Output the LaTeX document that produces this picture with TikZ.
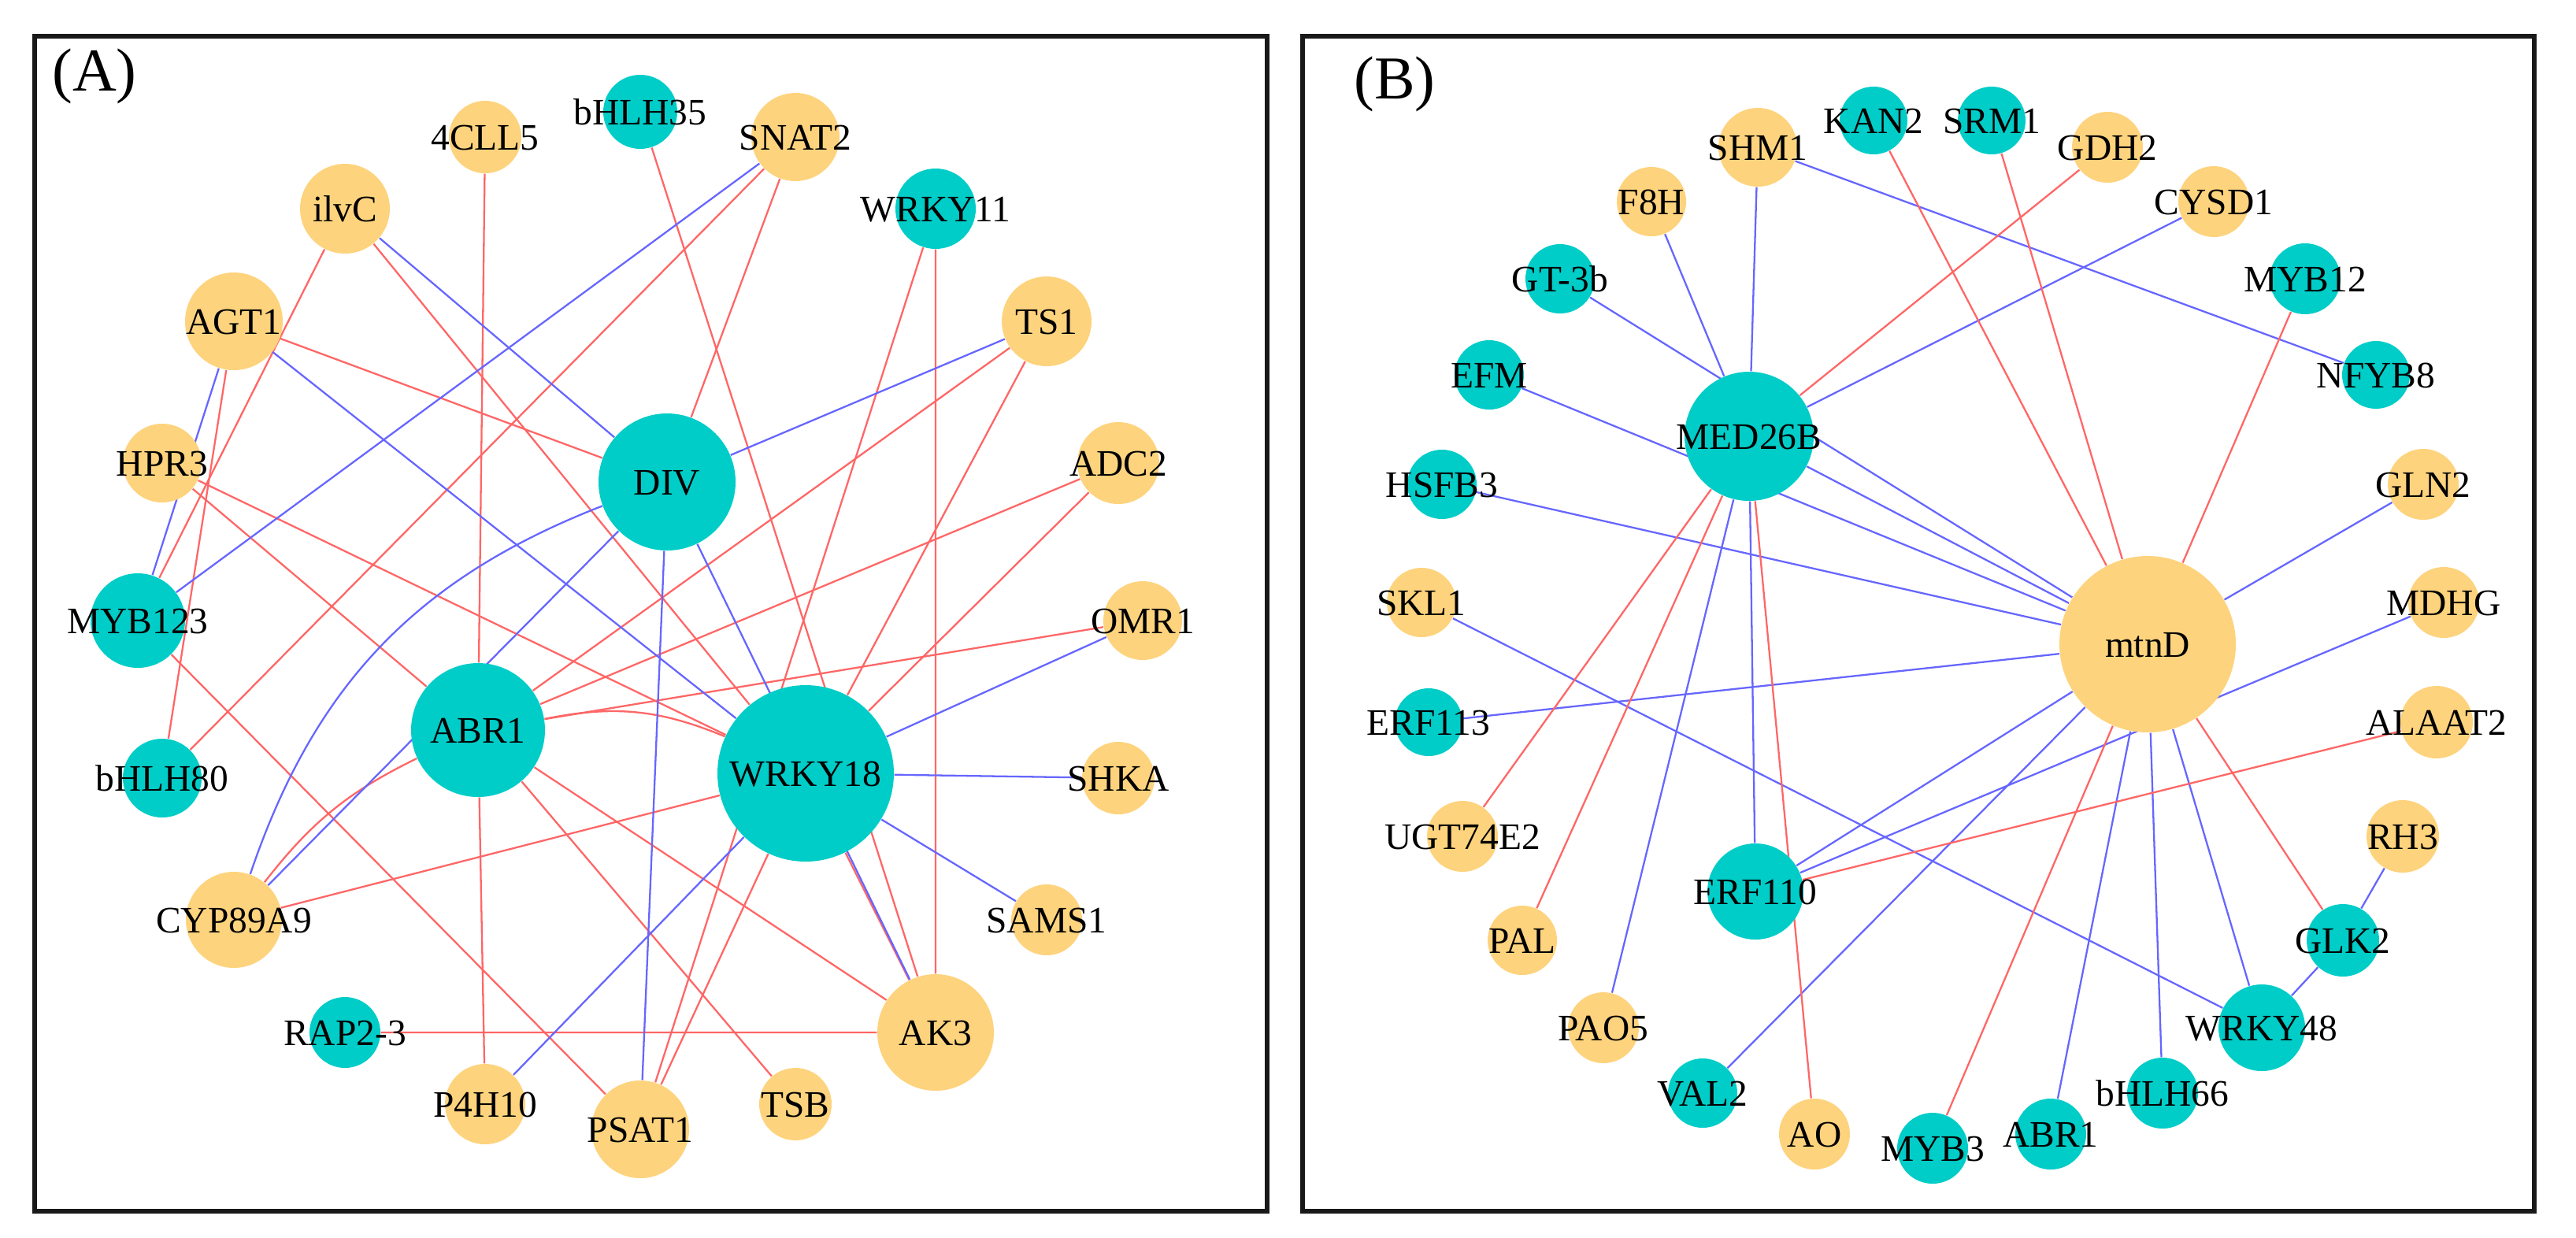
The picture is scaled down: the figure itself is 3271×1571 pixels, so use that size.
\documentclass[tikz,border=0pt]{standalone}
\usepackage{fontspec}
\setmainfont{Liberation Serif}
\usetikzlibrary{backgrounds}
\definecolor{tfcol}{RGB}{0,205,200}
\definecolor{enzcol}{RGB}{254,211,125}
\definecolor{poscol}{RGB}{255,102,102}
\definecolor{negcol}{RGB}{102,102,255}
\newcommand{\gname}[1]{\makebox[0pt]{\raisebox{-0.34em}[0pt][0pt]{#1}}}
\tikzset{
  tf/.style={circle, fill=tfcol, inner sep=0pt, font=\fontsize{13.5}{16}\selectfont},
  enz/.style={circle, fill=enzcol, inner sep=0pt, font=\fontsize{13.5}{16}\selectfont},
  poscor/.style={draw=poscol, line width=0.65pt},
  negcor/.style={draw=negcol, line width=0.65pt},
  panel/.style={draw=black!90, line width=1.6pt},
  paneltag/.style={font=\fontsize{22}{26}\selectfont},
}
\begin{document}
\begin{tikzpicture}[x=0.1mm, y=-0.1mm]
  \useasboundingbox (0,0) rectangle (3271,1571);
  \draw[panel] (44,46) rectangle (1609,1538);
  \draw[panel] (1654,46) rectangle (3218,1538);
  \node[paneltag] (taga) at (120,97) {(A)};
  \node[paneltag] (tagb) at (1771,107) {(B)};

  % network A
  \node[tf, minimum size=9.4mm] (bhlh35) at (813,142) {\gname{bHLH35}};
  \node[enz, minimum size=11.2mm] (snat2) at (1010,174) {\gname{SNAT2}};
  \node[tf, minimum size=10.2mm] (wrky11) at (1188,265) {\gname{WRKY11}};
  \node[enz, minimum size=11.4mm] (ts1) at (1329,408) {\gname{TS1}};
  \node[enz, minimum size=10.4mm] (adc2) at (1420,588) {\gname{ADC2}};
  \node[enz, minimum size=10mm] (omr1) at (1451,788) {\gname{OMR1}};
  \node[enz, minimum size=9.2mm] (shka) at (1420,988) {\gname{SHKA}};
  \node[enz, minimum size=9mm] (sams1) at (1329,1168) {\gname{SAMS1}};
  \node[enz, minimum size=14.8mm] (ak3) at (1188,1311) {\gname{AK3}};
  \node[enz, minimum size=9.2mm] (tsb) at (1010,1402) {\gname{TSB}};
  \node[enz, minimum size=12.4mm] (psat1) at (813,1434) {\gname{PSAT1}};
  \node[enz, minimum size=10.2mm] (p4h10) at (616,1402) {\gname{P4H10}};
  \node[tf, minimum size=9mm] (rap23) at (438,1311) {\gname{RAP2-3}};
  \node[enz, minimum size=12.2mm] (cyp89a9) at (297,1168) {\gname{CYP89A9}};
  \node[tf, minimum size=10mm] (bhlh80) at (206,988) {\gname{bHLH80}};
  \node[tf, minimum size=12mm] (myb123) at (175,788) {\gname{MYB123}};
  \node[enz, minimum size=10mm] (hpr3) at (206,588) {\gname{HPR3}};
  \node[enz, minimum size=12.4mm] (agt1) at (297,408) {\gname{AGT1}};
  \node[enz, minimum size=11.4mm] (ilvc) at (438,265) {\gname{ilvC}};
  \node[enz, minimum size=9.2mm] (cll5) at (616,174) {\gname{4CLL5}};
  \node[tf, minimum size=17.4mm] (div) at (847,612) {\gname{DIV}};
  \node[tf, minimum size=17mm] (abr1) at (607,927) {\gname{ABR1}};
  \node[tf, minimum size=22.4mm] (wrky18) at (1023,982) {\gname{WRKY18}};

  % network B
  \node[tf, minimum size=8.6mm] (kan2) at (2379,153) {\gname{KAN2}};
  \node[tf, minimum size=8.6mm] (srm1) at (2529,153) {\gname{SRM1}};
  \node[enz, minimum size=9mm] (gdh2) at (2676,187) {\gname{GDH2}};
  \node[enz, minimum size=9mm] (cysd1) at (2811,256) {\gname{CYSD1}};
  \node[tf, minimum size=9mm] (myb12) at (2927,354) {\gname{MYB12}};
  \node[tf, minimum size=8.6mm] (nfyb8) at (3017,476) {\gname{NFYB8}};
  \node[enz, minimum size=9mm] (gln2) at (3077,615) {\gname{GLN2}};
  \node[enz, minimum size=9mm] (mdhg) at (3103,765) {\gname{MDHG}};
  \node[enz, minimum size=9.2mm] (alaat2) at (3094,917) {\gname{ALAAT2}};
  \node[enz, minimum size=9.2mm] (rh3) at (3051,1062) {\gname{RH3}};
  \node[tf, minimum size=9.2mm] (glk2) at (2975,1194) {\gname{GLK2}};
  \node[tf, minimum size=11mm] (wrky48) at (2872,1305) {\gname{WRKY48}};
  \node[tf, minimum size=9mm] (bhlh66) at (2746,1388) {\gname{bHLH66}};
  \node[tf, minimum size=9mm] (abr1b) at (2604,1440) {\gname{ABR1}};
  \node[tf, minimum size=9mm] (myb3) at (2454,1458) {\gname{MYB3}};
  \node[enz, minimum size=9mm] (ao) at (2304,1440) {\gname{AO}};
  \node[tf, minimum size=8.8mm] (val2) at (2162,1388) {\gname{VAL2}};
  \node[enz, minimum size=9mm] (pao5) at (2036,1305) {\gname{PAO5}};
  \node[enz, minimum size=8.8mm] (pal) at (1933,1194) {\gname{PAL}};
  \node[enz, minimum size=9mm] (ugt74e2) at (1857,1062) {\gname{UGT74E2}};
  \node[tf, minimum size=8.6mm] (erf113) at (1814,917) {\gname{ERF113}};
  \node[enz, minimum size=8.8mm] (skl1) at (1805,765) {\gname{SKL1}};
  \node[tf, minimum size=8.8mm] (hsfb3) at (1831,615) {\gname{HSFB3}};
  \node[tf, minimum size=8.8mm] (efm) at (1891,476) {\gname{EFM}};
  \node[tf, minimum size=8.8mm] (gt3b) at (1981,354) {\gname{GT-3b}};
  \node[enz, minimum size=8.8mm] (f8h) at (2097,256) {\gname{F8H}};
  \node[enz, minimum size=10mm] (shm1) at (2232,187) {\gname{SHM1}};
  \node[tf, minimum size=16.4mm] (med26b) at (2221,554) {\gname{MED26B}};
  \node[enz, minimum size=22.4mm] (mtnd) at (2727,818) {\gname{mtnD}};
  \node[tf, minimum size=12.2mm] (erf110) at (2229,1132) {\gname{ERF110}};

  \begin{scope}[on background layer]
    \draw[poscor] (cll5) -- (abr1) -- (p4h10);
    \draw[poscor] (bhlh35) -- (ak3);
    \draw[poscor] (bhlh80) -- (snat2) -- (div);
    \draw[poscor] (psat1) -- (wrky11) -- (ak3);
    \draw[poscor] (abr1) -- (ts1) -- (wrky18);
    \draw[poscor] (abr1) -- (adc2) -- (wrky18);
    \draw[poscor] (abr1) -- (omr1);
    \draw[poscor] (rap23) -- (ak3) -- (abr1) -- (tsb);
    \draw[poscor] (ak3) -- (wrky18) -- (psat1) -- (myb123);
    \draw[poscor] (cyp89a9) -- (wrky18);
    \draw[poscor] (cyp89a9) to[bend left=13] (abr1);
    \draw[poscor] (abr1) to[bend left=17] (wrky18);
    \draw[poscor] (bhlh80) -- (agt1) -- (div);
    \draw[poscor] (myb123) -- (ilvc) -- (wrky18);
    \draw[poscor] (wrky18) -- (hpr3) -- (abr1);

    \draw[negcor] (myb123) -- (snat2);
    \draw[negcor] (ts1) -- (div) -- (ak3);
    \draw[negcor] (omr1) -- (wrky18) -- (shka);
    \draw[negcor] (sams1) -- (wrky18) -- (p4h10);
    \draw[negcor] (psat1) -- (div) -- (ilvc);
    \draw[negcor] (myb123) -- (agt1) -- (wrky18);
    \draw[negcor] (cyp89a9) -- (div);
    \draw[negcor] (cyp89a9) to[bend left=25] (div);

    \draw[negcor] (nfyb8) -- (shm1) -- (med26b) -- (f8h);
    \draw[negcor] (cysd1) -- (med26b) -- (pao5);
    \draw[negcor] (erf110) -- (med26b) -- (mtnd);
    \draw[negcor] (gt3b) -- (mtnd) -- (efm);
    \draw[negcor] (hsfb3) -- (mtnd) -- (erf113);
    \draw[negcor] (val2) -- (mtnd) -- (erf110) -- (mdhg);
    \draw[negcor] (gln2) -- (mtnd) -- (abr1b);
    \draw[negcor] (bhlh66) -- (mtnd) -- (wrky48);
    \draw[negcor] (skl1) -- (wrky48) -- (glk2) -- (rh3);

    \draw[poscor] (gdh2) -- (med26b) -- (ugt74e2);
    \draw[poscor] (pal) -- (med26b) -- (ao);
    \draw[poscor] (kan2) -- (mtnd) -- (srm1);
    \draw[poscor] (myb12) -- (mtnd) -- (myb3);
    \draw[poscor] (mtnd) -- (glk2);
    \draw[poscor] (alaat2) -- (erf110);
  \end{scope}
\end{tikzpicture}
\end{document}
